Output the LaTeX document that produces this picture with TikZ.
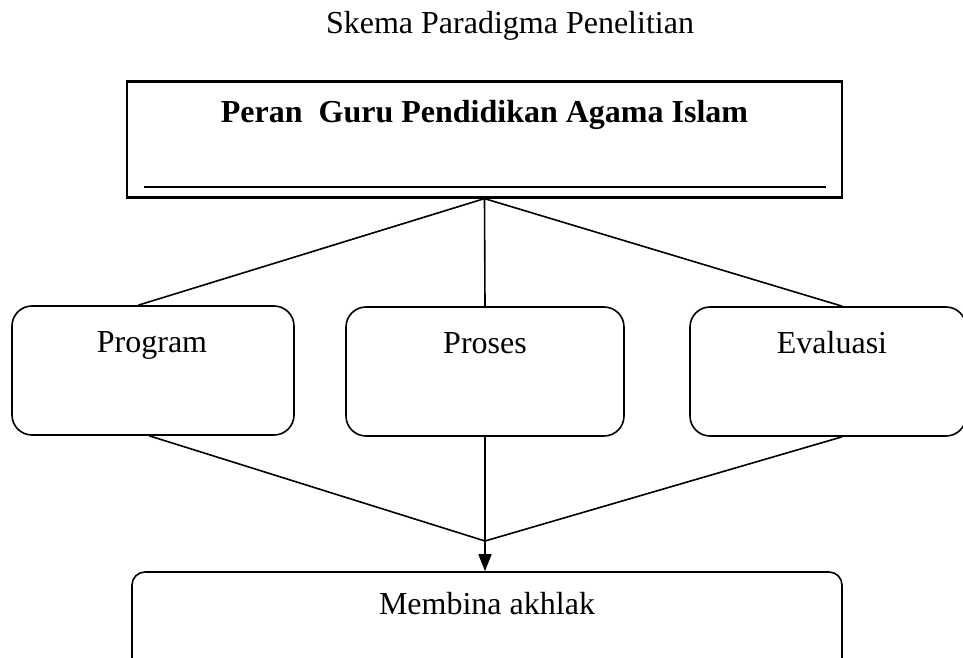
\documentclass[tikz,border=0pt]{standalone}
\usepackage{fontspec}
\setmainfont{Liberation Serif}
\usetikzlibrary{arrows.meta}
\begin{document}
\begin{tikzpicture}[x=1pt,y=-1pt,
  txt/.style={anchor=base,inner sep=0pt,font=\fontsize{32}{38}\selectfont},
  bigbox/.style={draw,line width=2.2pt,inner sep=0pt},
  rbox/.style={draw,line width=1.6pt,rounded corners=20pt,inner sep=0pt},
  conn/.style={line width=1.6pt},
  arr/.style={line width=1.6pt,-{Triangle[length=17pt,width=13pt]}}]
\useasboundingbox (0,0) rectangle (963,658);
% title
\node[txt] (title) at (510,34) {Skema Paradigma Penelitian};
% top box
\node[bigbox,minimum width=715pt,minimum height=116pt] (top) at (484.5,139.5) {};
\node[txt,font=\fontsize{32}{38}\selectfont\bfseries] (toptxt) at (484.5,123) {Peran\ \ Guru Pendidikan Agama Islam};
\coordinate (ul) at (144,187);
\coordinate (ur) at (826,187);
\draw[line width=2.2pt] (ul) -- (ur);
% middle boxes
\node[rbox,minimum width=282pt,minimum height=129pt] (prog) at (153,370.5) {};
\node[rbox,minimum width=278pt,minimum height=129pt] (pros) at (485,371.5) {};
\node[rbox,minimum width=276pt,minimum height=129pt] (eval) at (828,371.5) {};
\node[txt] (progtxt) at (152,352) {Program};
\node[txt] (prostxt) at (485,353) {Proses};
\node[txt] (evaltxt) at (832,353) {Evaluasi};
% bottom box
\node[rbox,rounded corners=13pt,minimum width=710pt,minimum height=110pt] (bot) at (487,627) {};
\node[txt] (bottxt) at (487,614) {Membina akhlak};
% connectors top
\draw[conn] (top.south) -- ([xshift=127pt]prog.north west);
\draw[conn] (top.south) -- (pros.north);
\draw[conn] (top.south) -- ([xshift=153pt]eval.north west);
% connectors bottom
\coordinate (meet) at (485,541);
\draw[conn] ([xshift=138pt]prog.south west) -- (meet);
\draw[conn] ([xshift=153pt]eval.south west) -- (meet);
\draw[arr] (pros.south) -- (pros.south |- bot.north);
\end{tikzpicture}
\end{document}
